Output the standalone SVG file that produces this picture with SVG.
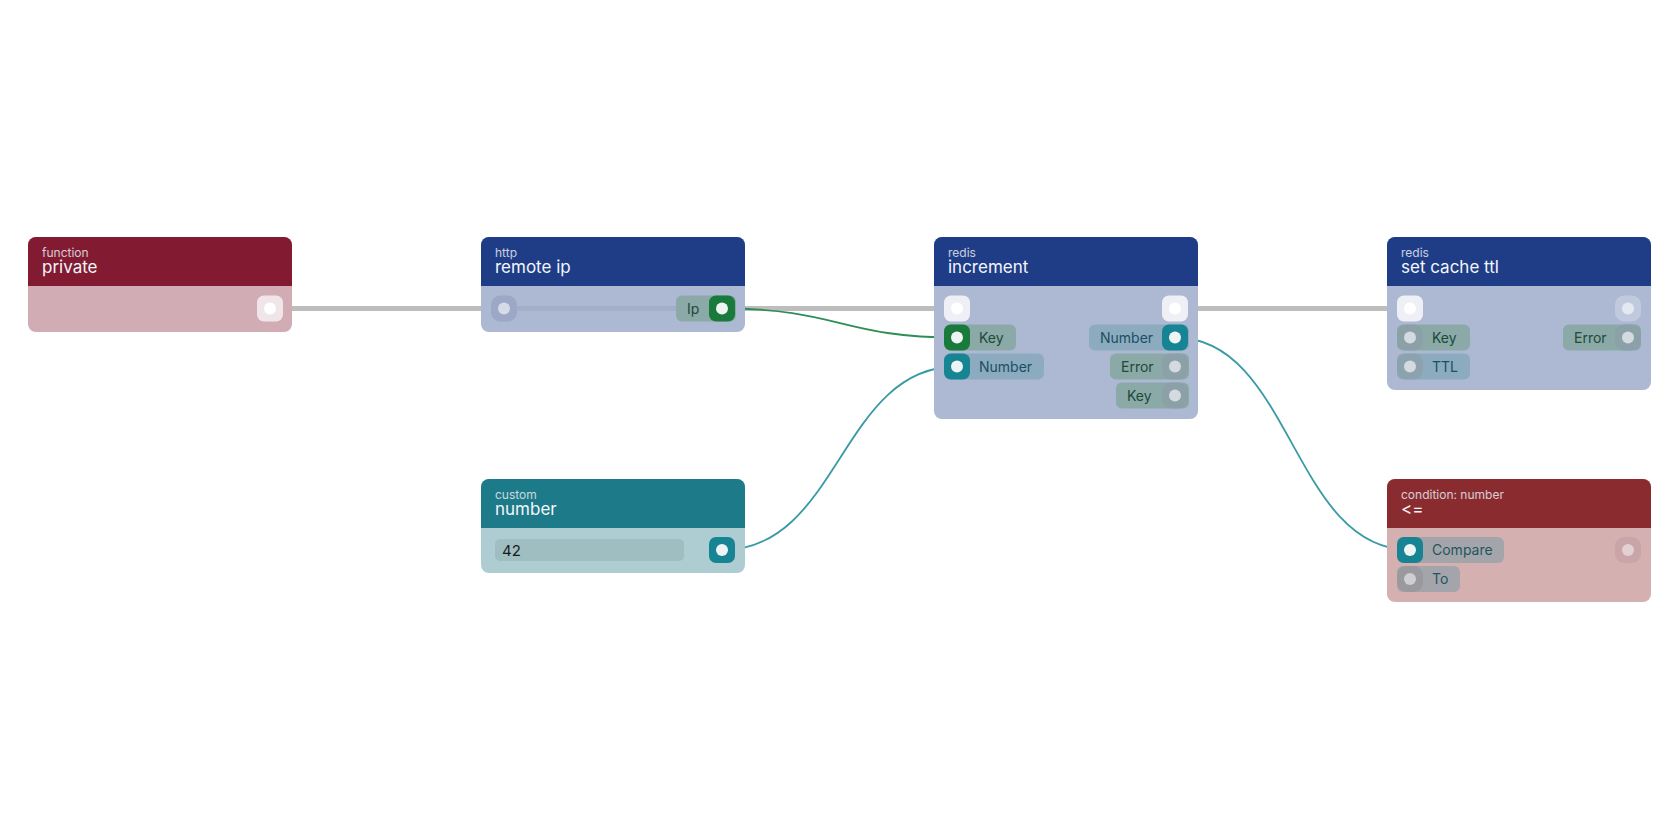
<svg xmlns="http://www.w3.org/2000/svg" width="1680" height="840" viewBox="0 0 1680 840">
<style>
text{font-family:Inter,"Noto Sans","Liberation Sans",sans-serif}
.k{font-size:12px;fill:#e6e8f0;opacity:.85}
.t{font-size:17px;fill:#f4f5fa}
.pl{font-size:14px;fill:#1d4a3a}
.pb{font-size:14px;fill:#1b4f63}
.pg{font-size:14px;fill:#1f5560}
.gp{fill:#8aa9a7}
.bp{fill:#8cabbf}
.cp{fill:#a4a5aa}
.ex{fill:#eef0f6}
.hg{fill:#1a7a3c}
.ht{fill:#178494}
.hf{fill:#8b9ea6;opacity:.7}
.dot{fill:#eef4f4}
.dotf{fill:#d3dae0}
</style>
<rect width="1680" height="840" fill="#ffffff"/>
<g id="connectors" fill="none">
<line x1="270" y1="308.5" x2="1410" y2="308.5" stroke="#bdbdbd" stroke-width="5"/>
<path d="M722,308.5 C840,308.5 840,337.5 957,337.5" stroke="#2e8c55" stroke-width="1.8"/>
<path d="M722,550 C840,550 840,366.5 957,366.5" stroke="#3a9aa6" stroke-width="1.8"/>
<path d="M1175,337.5 C1292,337.5 1292,550 1410,550" stroke="#3a9aa6" stroke-width="1.8"/>
</g>
<g id="node-private">
<rect x="28" y="237" width="264" height="95" rx="8" fill="#d1acb4"/>
<path d="M28,286 V245 a8,8 0 0 1 8,-8 H284 a8,8 0 0 1 8,8 V286 Z" fill="#821b32"/>
<text class="k" x="42" y="257">function</text>
<text class="t" x="42" y="273">private</text>
<rect x="257" y="295.5" width="26" height="26" rx="7" fill="#f0e6ea"/>
<circle cx="270" cy="308.5" r="6" fill="#ffffff"/>
</g>
<g id="node-remote-ip">
<rect x="481" y="237" width="264" height="95" rx="8" fill="#adb8d3"/>
<path d="M481,286 V245 a8,8 0 0 1 8,-8 H737 a8,8 0 0 1 8,8 V286 Z" fill="#1f3d87"/>
<line x1="504" y1="308.5" x2="690" y2="308.5" stroke="#a3aec9" stroke-width="5"/>
<text class="k" x="495" y="257">http</text>
<text class="t" x="495" y="273">remote ip</text>
<rect x="491" y="295.5" width="26" height="26" rx="9" fill="#9da8c6"/>
<circle cx="504" cy="308.5" r="6" fill="#d6dbe8"/>
<rect x="676" y="295.5" width="60" height="26" rx="6" class="gp"/>
<text class="pl" x="687" y="313.5">Ip</text>
<rect x="709" y="295.5" width="26" height="26" rx="7" class="hg"/>
<circle cx="722" cy="308.5" r="6" class="dot"/>
</g>
<g id="node-increment">
<rect x="934" y="237" width="264" height="182" rx="8" fill="#adb8d3"/>
<path d="M934,286 V245 a8,8 0 0 1 8,-8 H1190 a8,8 0 0 1 8,8 V286 Z" fill="#1f3d87"/>
<text class="k" x="948" y="257">redis</text>
<text class="t" x="948" y="273">increment</text>
<rect x="944" y="295.5" width="26" height="26" rx="7" class="ex"/>
<circle cx="957" cy="308.5" r="6" fill="#ffffff"/>
<rect x="1162" y="295.5" width="26" height="26" rx="7" class="ex"/>
<circle cx="1175" cy="308.5" r="6" fill="#ffffff"/>
<rect x="944" y="324.5" width="72" height="26" rx="6" class="gp"/>
<rect x="944" y="324.5" width="26" height="26" rx="7" class="hg"/>
<circle cx="957" cy="337.5" r="6" class="dot"/>
<text class="pl" x="979" y="342.5">Key</text>
<rect x="944" y="353.5" width="100" height="26" rx="6" class="bp"/>
<rect x="944" y="353.5" width="26" height="26" rx="7" class="ht"/>
<circle cx="957" cy="366.5" r="6" class="dot"/>
<text class="pb" x="979" y="371.5">Number</text>
<rect x="1089" y="324.5" width="100" height="26" rx="6" class="bp"/>
<text class="pb" x="1100" y="342.5">Number</text>
<rect x="1162" y="324.5" width="26" height="26" rx="7" class="ht"/>
<circle cx="1175" cy="337.5" r="6" class="dot"/>
<rect x="1110" y="353.5" width="79" height="26" rx="6" class="gp"/>
<text class="pl" x="1121" y="371.5">Error</text>
<rect x="1162" y="353.5" width="26" height="26" rx="9" class="hf"/>
<circle cx="1175" cy="366.5" r="6" class="dotf"/>
<rect x="1116" y="382.5" width="73" height="26" rx="6" class="gp"/>
<text class="pl" x="1127" y="400.5">Key</text>
<rect x="1162" y="382.5" width="26" height="26" rx="9" class="hf"/>
<circle cx="1175" cy="395.5" r="6" class="dotf"/>
</g>
<g id="node-set-cache-ttl">
<rect x="1387" y="237" width="264" height="153" rx="8" fill="#adb8d3"/>
<path d="M1387,286 V245 a8,8 0 0 1 8,-8 H1643 a8,8 0 0 1 8,8 V286 Z" fill="#1f3d87"/>
<text class="k" x="1401" y="257">redis</text>
<text class="t" x="1401" y="273">set cache ttl</text>
<rect x="1397" y="295.5" width="26" height="26" rx="7" class="ex"/>
<circle cx="1410" cy="308.5" r="6" fill="#ffffff"/>
<rect x="1615" y="295.5" width="26" height="26" rx="9" fill="#c1c9de"/>
<circle cx="1628" cy="308.5" r="6" fill="#e4e8f0"/>
<rect x="1397" y="324.5" width="73" height="26" rx="6" class="gp"/>
<rect x="1397" y="324.5" width="26" height="26" rx="9" class="hf"/>
<circle cx="1410" cy="337.5" r="6" class="dotf"/>
<text class="pl" x="1432" y="342.5">Key</text>
<rect x="1397" y="353.5" width="73" height="26" rx="6" class="bp"/>
<rect x="1397" y="353.5" width="26" height="26" rx="9" class="hf"/>
<circle cx="1410" cy="366.5" r="6" class="dotf"/>
<text class="pb" x="1432" y="371.5">TTL</text>
<rect x="1563" y="324.5" width="78" height="26" rx="6" class="gp"/>
<text class="pl" x="1574" y="342.5">Error</text>
<rect x="1615" y="324.5" width="26" height="26" rx="9" class="hf"/>
<circle cx="1628" cy="337.5" r="6" class="dotf"/>
</g>
<g id="node-custom-number">
<rect x="481" y="479" width="264" height="94" rx="8" fill="#aecdd2"/>
<path d="M481,528 V487 a8,8 0 0 1 8,-8 H737 a8,8 0 0 1 8,8 V528 Z" fill="#1d7a89"/>
<text class="k" x="495" y="499">custom</text>
<text class="t" x="495" y="515">number</text>
<rect x="495" y="539" width="189" height="22" rx="5" fill="#9fbec2"/>
<text x="502" y="555.5" font-size="15" fill="#1a1a1a">42</text>
<rect x="709" y="537" width="26" height="26" rx="7" class="ht"/>
<circle cx="722" cy="550" r="6" class="dot"/>
</g>
<g id="node-condition">
<rect x="1387" y="479" width="264" height="123" rx="8" fill="#d4b0b1"/>
<path d="M1387,528 V487 a8,8 0 0 1 8,-8 H1643 a8,8 0 0 1 8,8 V528 Z" fill="#8a2c2f"/>
<text class="k" x="1401" y="499">condition: number</text>
<text class="t" x="1401" y="515" font-size="15">&lt;=</text>
<rect x="1397" y="537" width="107" height="26" rx="6" class="cp"/>
<rect x="1397" y="537" width="26" height="26" rx="7" class="ht"/>
<circle cx="1410" cy="550" r="6" class="dot"/>
<text class="pg" x="1432" y="555">Compare</text>
<rect x="1397" y="566" width="63" height="26" rx="6" class="cp"/>
<rect x="1397" y="566" width="26" height="26" rx="9" fill="#9a9a9e"/>
<circle cx="1410" cy="579" r="6" fill="#cfcfd2"/>
<text class="pg" x="1432" y="584">To</text>
<rect x="1615" y="537" width="26" height="26" rx="9" fill="#c9a4a8"/>
<circle cx="1628" cy="550" r="6" fill="#e2d0d2"/>
</g>
</svg>
